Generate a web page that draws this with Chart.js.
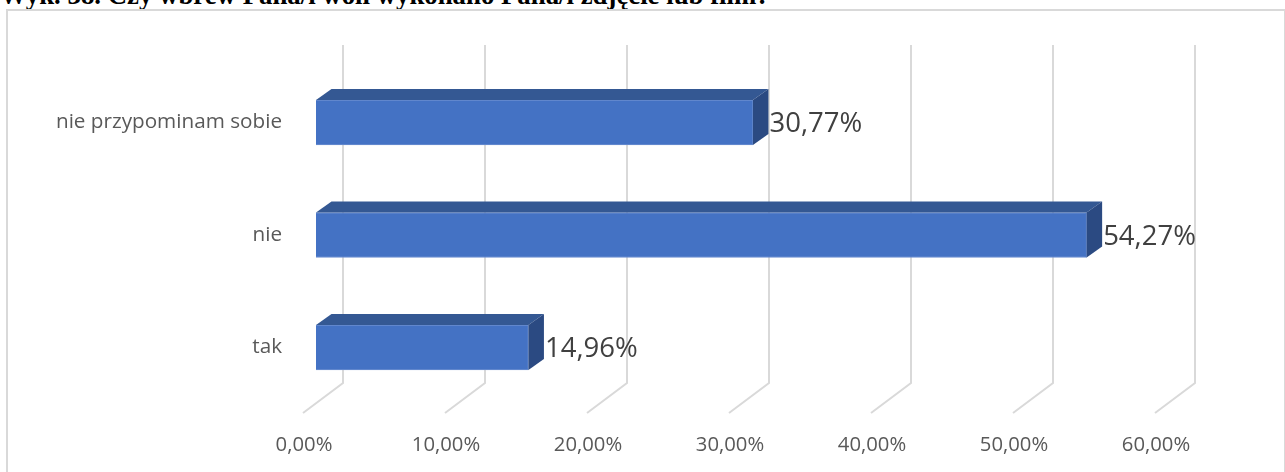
<!DOCTYPE html>
<html>
<head>
<meta charset="utf-8">
<script src="https://cdn.jsdelivr.net/npm/chart.js@4/dist/chart.umd.min.js"></script>
<style>
  html, body { margin: 0; padding: 0; background: #fff; overflow: hidden; }
  #wrap { position: relative; width: 1285px; height: 472px; overflow: hidden; }
  #title { position: absolute; left: 0; top: -18px; font: bold 26.8px "Liberation Serif", "Times New Roman", serif; line-height: 26.8px; color: #000; white-space: nowrap; }
  #frame { position: absolute; left: 6px; top: 9px; width: 1276px; height: 500px; border: 2px solid #d9d9d9; }
  #c { position: absolute; left: 0; top: 0; }
</style>
</head>
<body>
<div id="wrap">
  <div id="title">Wyk. 38. Czy wbrew Pana/i woli wykonano Pana/i zdjęcie lub film?</div>
  <div id="frame"></div>
  <canvas id="c" width="1285" height="472"></canvas>
</div>
<script>
const categories = ["nie przypominam sobie", "nie", "tak"];
const values = [30.77, 54.27, 14.96];
const tickValues = [0, 10, 20, 30, 40, 50, 60];

const fmt = v => v.toFixed(2).replace('.', ',') + '%';
const DX = 15.5, DY = -11;          // bar depth offset
const WX = 27, WBOTTOM = 383, WTOP = 45; // back wall
const FX = -13, FY = 413;          // floor front edge

const wall3D = {
  id: 'wall3D',
  beforeDatasetsDraw(chart) {
    const ctx = chart.ctx, xs = chart.scales.x;
    ctx.save();
    ctx.strokeStyle = '#d9d9d9';
    ctx.lineWidth = 2;
    tickValues.forEach(v => {
      const px = xs.getPixelForValue(v);
      ctx.beginPath();
      ctx.moveTo(px + WX, WTOP);
      ctx.lineTo(px + WX, WBOTTOM);
      ctx.lineTo(px + FX, FY);
      ctx.stroke();
    });
    ctx.restore();
  }
};

const bar3D = {
  id: 'bar3D',
  afterDatasetsDraw(chart) {
    const ctx = chart.ctx;
    const meta = chart.getDatasetMeta(0);
    ctx.save();
    meta.data.forEach((bar, i) => {
      const p = bar.getProps(['x', 'y', 'base', 'height'], true);
      const top = p.y - p.height / 2, bot = p.y + p.height / 2;
      const l = p.base, r = p.x;
      ctx.fillStyle = '#345893';
      ctx.beginPath();
      ctx.moveTo(l, top); ctx.lineTo(l + DX, top + DY); ctx.lineTo(r + DX, top + DY); ctx.lineTo(r, top);
      ctx.closePath(); ctx.fill();
      ctx.fillStyle = '#2b4a82';
      ctx.beginPath();
      ctx.moveTo(r, top); ctx.lineTo(r + DX, top + DY); ctx.lineTo(r + DX, bot + DY); ctx.lineTo(r, bot);
      ctx.closePath(); ctx.fill();
      ctx.fillStyle = '#404040';
      ctx.font = '27.5px "Open Sans", sans-serif';
      ctx.textAlign = 'left';
      ctx.textBaseline = 'middle';
      ctx.fillText(fmt(values[i]), r + DX + 1, p.y + 2);
    });
    ctx.restore();
  }
};

new Chart(document.getElementById('c'), {
  type: 'bar',
  data: {
    labels: categories,
    datasets: [{
      data: values,
      backgroundColor: '#4472c4',
      borderColor: '#6b8fd1',
      borderWidth: 1,
      barThickness: 45
    }]
  },
  options: {
    indexAxis: 'y',
    responsive: false,
    animation: false,
    devicePixelRatio: 1,
    layout: { padding: { top: 66.25, right: 117, left: 0, bottom: 0 } },
    plugins: { legend: { display: false }, tooltip: { enabled: false } },
    scales: {
      x: {
        min: 0, max: 60,
        afterFit(s) { s.height = 472 - 403.75; },
        afterBuildTicks(s) { s.ticks = tickValues.map(v => ({ value: v })); },
        grid: { display: false, drawTicks: false },
        border: { display: false },
        ticks: {
          labelOffset: -12,
          padding: 29,
          color: '#595959',
          font: { family: 'Open Sans', size: 20.3 },
          callback: v => fmt(v)
        }
      },
      y: {
        afterFit(s) { s.width = 316; },
        grid: { display: false, drawTicks: false },
        border: { display: false },
        ticks: {
          padding: 34,
          color: '#595959',
          font: { family: 'Open Sans', size: 20.7 }
        }
      }
    }
  },
  plugins: [wall3D, bar3D]
});
</script>
</body>
</html>
